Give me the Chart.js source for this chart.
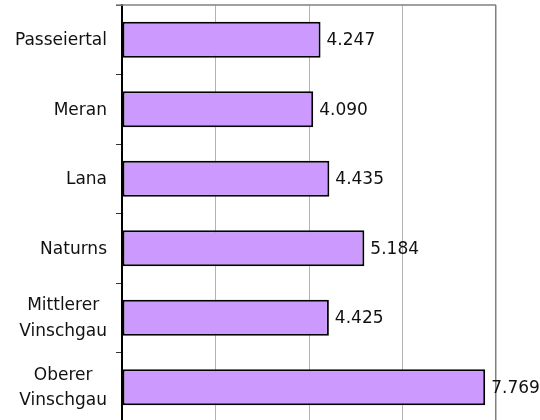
<!DOCTYPE html>
<html>
<head>
<meta charset="utf-8">
<script src="https://cdn.jsdelivr.net/npm/chart.js@4/dist/chart.umd.min.js"></script>
<style>
    html, body { margin: 0; padding: 0; background: #fff; overflow: hidden; }
    #wrap { width: 540px; height: 425px; }
</style>
</head>
<body>
<div id="wrap"><canvas id="barChart" width="540" height="425"></canvas></div>
<script>
// Daten
const categories = [
    ['Passeiertal'],
    ['Meran'],
    ['Lana'],
    ['Naturns'],
    ['Mittlerer', 'Vinschgau'],
    ['Oberer', 'Vinschgau']
];
const values = [4247, 4090, 4435, 5184, 4425, 7769];
const axisMin = 0;
const axisMax = 8000;
const axisStep = 2000;

const FONT = '17px "DejaVu Sans"';
const LINE_HEIGHT = 25.5;

const formatValue = (v) => new Intl.NumberFormat('de-DE').format(v);

// Rahmen oben + eigene Beschriftungen
const framePlugin = {
    id: 'frame',
    beforeDatasetsDraw(chart) {
        const { ctx, chartArea } = chart;
        ctx.save();
        ctx.strokeStyle = '#808080';
        ctx.lineWidth = 1.5;
        ctx.beginPath();
        ctx.moveTo(chartArea.left - 6, chartArea.top);
        ctx.lineTo(chartArea.right, chartArea.top);
        ctx.stroke();
        ctx.restore();
    },
    afterDraw(chart) {
        const { ctx, chartArea } = chart;
        const yScale = chart.scales.y;
        const meta = chart.getDatasetMeta(0);
        ctx.save();
        ctx.font = FONT;
        ctx.fillStyle = '#111';
        ctx.textBaseline = 'middle';

        // Kategorien: Block rechtsbündig, Zeilen zentriert
        const xRight = chartArea.left - 15;
        categories.forEach((lines, i) => {
            const yc = yScale.getPixelForValue(i);
            const blockW = Math.max(...lines.map(l => ctx.measureText(l).width));
            const cx = xRight - blockW / 2;
            const y0 = yc - (lines.length - 1) * LINE_HEIGHT / 2;
            ctx.textAlign = 'center';
            lines.forEach((l, j) => ctx.fillText(l, cx, y0 + j * LINE_HEIGHT + 1));
        });

        // Werte am Balkenende
        ctx.textAlign = 'left';
        meta.data.forEach((bar, i) => {
            ctx.fillText(formatValue(values[i]), bar.x + 6, bar.y + 1);
        });
        ctx.restore();
    }
};

const ctx = document.getElementById('barChart').getContext('2d');
new Chart(ctx, {
    type: 'bar',
    data: {
        labels: categories,
        datasets: [{
            data: values,
            backgroundColor: '#CC99FF',
            borderColor: '#000',
            borderWidth: 2,
            borderSkipped: false,
            barPercentage: 0.52,
            categoryPercentage: 1
        }]
    },
    options: {
        indexAxis: 'y',
        responsive: false,
        animation: false,
        layout: { padding: { left: 116, right: 44, top: 5, bottom: 3 } },
        plugins: {
            legend: { display: false },
            tooltip: { enabled: false }
        },
        scales: {
            x: {
                min: axisMin,
                max: axisMax,
                ticks: { display: false, stepSize: axisStep },
                grid: {
                    drawTicks: false,
                    color: c => c.tick.value === axisMin ? 'rgba(0,0,0,0)'
                        : (c.tick.value === axisMax ? '#808080' : '#b4b4b4'),
                    lineWidth: c => c.tick.value === axisMax ? 1.5 : 1
                },
                border: { display: false }
            },
            y: {
                offset: true,
                grid: {
                    offset: true,
                    drawOnChartArea: false,
                    tickLength: 6,
                    color: '#333'
                },
                border: { color: '#000', width: 2 },
                ticks: { display: false }
            }
        }
    },
    plugins: [framePlugin]
});
</script>
</body>
</html>
